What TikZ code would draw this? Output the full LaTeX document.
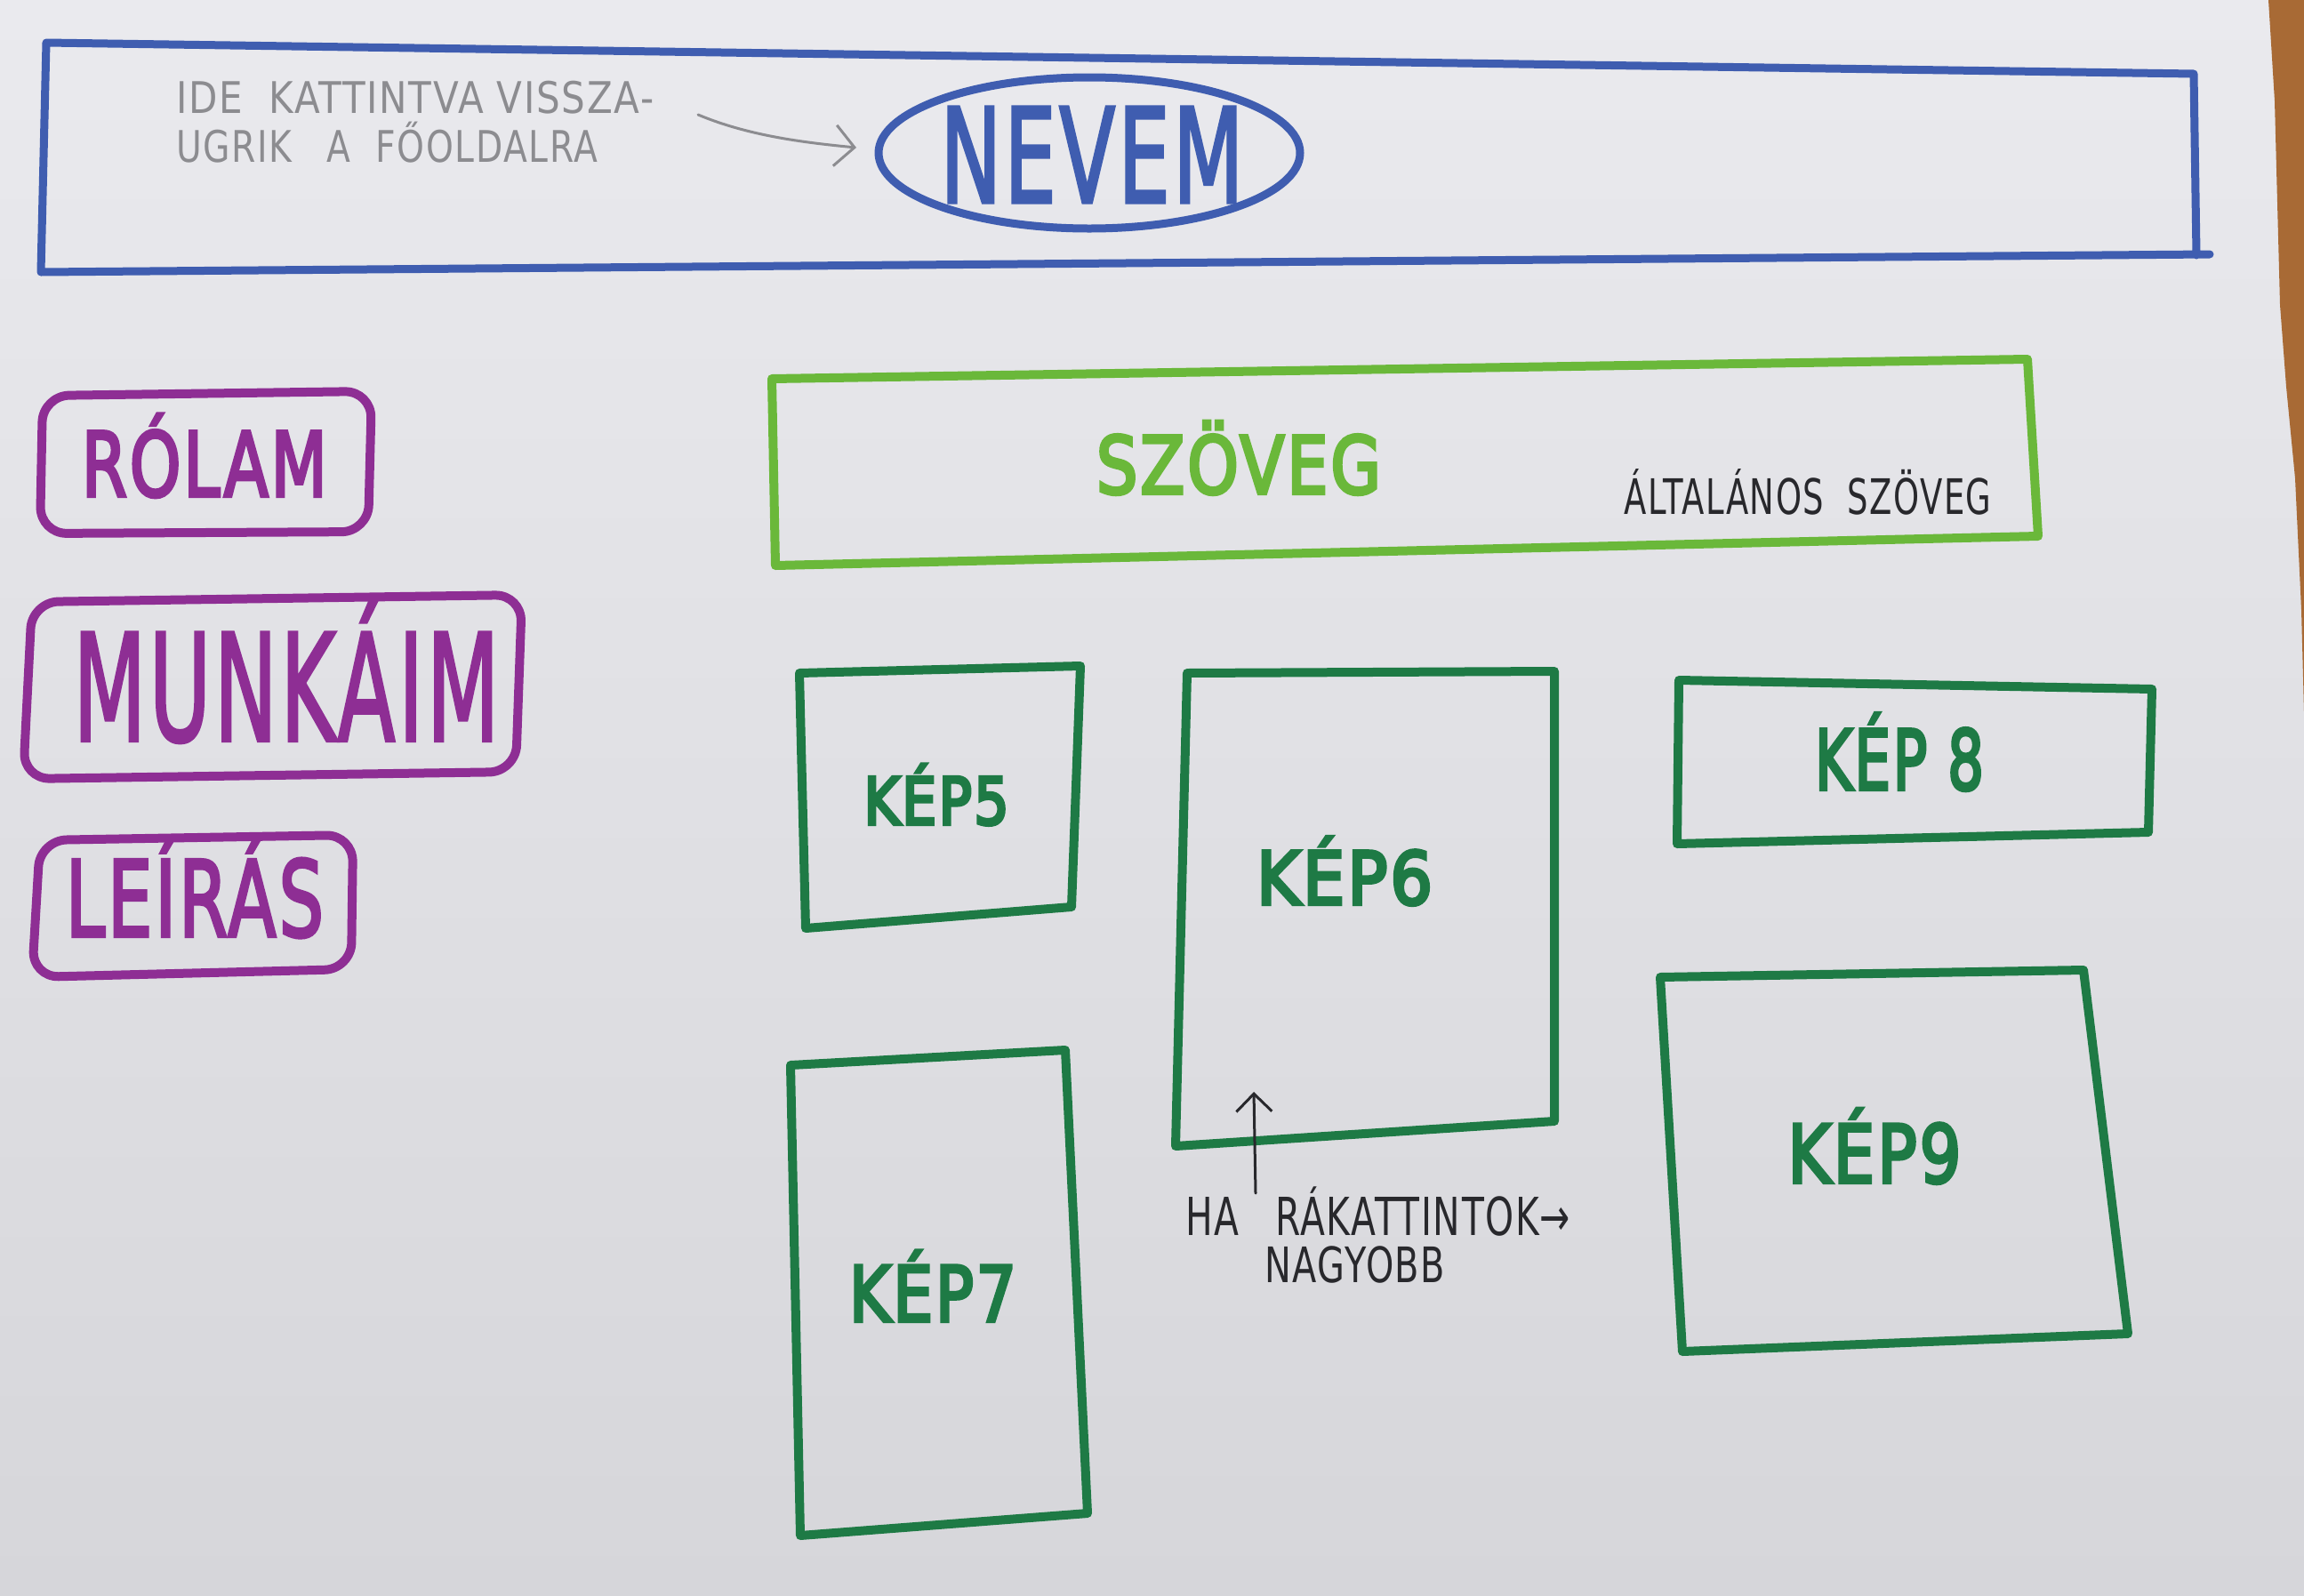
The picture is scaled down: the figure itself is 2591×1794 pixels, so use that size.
\documentclass[tikz,border=0pt]{standalone}
\usepackage{fontspec}
\setmainfont{DejaVu Sans}
\newfontfamily\hand[LetterSpace=4]{DejaVu Sans}
\newfontfamily\arrowfont{DejaVu Sans}
\usetikzlibrary{arrows.meta,shapes.geometric}
\newcommand\fitw[3]{\resizebox{#1pt}{\height}{\fontsize{#2pt}{#2pt}\selectfont #3}}
\newcommand\marker[1]{\special{pdf:literal direct 2 Tr 4 w}#1\special{pdf:literal direct 0 Tr 1 w}}
\definecolor{pblue}{RGB}{63,93,176}
\definecolor{ppurple}{RGB}{142,46,148}
\definecolor{lgreen}{RGB}{106,184,58}
\definecolor{dgreen}{RGB}{30,122,69}
\definecolor{pencil}{RGB}{140,140,144}
\definecolor{ink}{RGB}{40,40,44}
\definecolor{paperA}{RGB}{234,234,238}
\definecolor{paperB}{RGB}{214,214,218}
\definecolor{wood}{RGB}{168,106,53}
\begin{document}
\begin{tikzpicture}[x=1pt,y=-1pt,
  bluepen/.style={draw=pblue, line width=9pt, line join=round, line cap=round},
  purplebox/.style={draw=ppurple, line width=10pt, rounded corners=30pt, line join=round},
  lgreenbox/.style={draw=lgreen, line width=10pt, line join=round, line cap=round},
  dgreenbox/.style={draw=dgreen, line width=10pt, line join=round, line cap=round},
  lbl/.style={inner sep=0pt, anchor=base},
  lblw/.style={inner sep=0pt, anchor=base west},
  pencilarrow/.style={draw=pencil, line width=3pt, line cap=round, -{Straight Barb[length=22pt,width=46pt]}},
  inkarrow/.style={draw=ink, line width=3pt, line cap=round, -{Straight Barb[length=20pt,width=40pt]}}
]
\useasboundingbox (0,0) rectangle (2591,1794);
% paper and table edge
\shade[top color=paperA, bottom color=paperB] (0,0) rectangle (2591,1794);
\fill[wood] (2551,0) -- (2591,0) -- (2591,801) -- (2588,686) -- (2581,538) -- (2571,435) -- (2564,343) -- (2558,114) -- cycle;

% header
\draw[bluepen] (2485,286) -- (46,306) -- (52,48) -- (2467,83) -- (2470,287);
\node[draw=pblue, line width=9pt, ellipse, minimum width=474pt, minimum height=170pt, inner sep=0pt] (nevem) at (1225,172) {};
\node[inner sep=0pt, text=pblue] (nevemtxt) at (1228,174) {\fitw{341}{147}{\hand\marker{NEVEM}}};
\node[lblw, text=pencil] (ide1) at (198,127) {\fitw{537}{49}{\hand IDE\ \ KATTINTVA VISSZA-}};
\node[lblw, text=pencil] (ide2) at (198,182) {\fitw{474}{49}{\hand UGRIK\quad A\ \ FŐOLDALRA}};
\coordinate (g1) at (785,129);
\coordinate (g2) at (963,166);
\draw[pencilarrow] (g1) .. controls (840,152) and (900,160) .. (g2);

% menu buttons
\draw[purplebox] (48,445) -- (418,440) -- (414,598) -- (45,600) -- cycle;
\node[lbl, text=ppurple] (rolam) at (230,558) {\fitw{276}{100}{\hand\marker{RÓLAM}}};
\draw[purplebox] (36,677) -- (587,669) -- (580,868) -- (26,876) -- cycle;
\node[lbl, text=ppurple] (munkaim) at (322,833) {\fitw{479}{167}{\hand\marker{MUNKÁIM}}};
\draw[purplebox] (45,945) -- (397,939) -- (395,1090) -- (36,1099) -- cycle;
\node[lbl, text=ppurple] (leiras) at (219,1053) {\fitw{290}{118}{\hand\marker{LEÍRÁS}}};

% text box
\draw[lgreenbox] (868,426) -- (2280,404) -- (2292,603) -- (872,636) -- cycle;
\node[lbl, text=lgreen] (szoveg) at (1393,555) {\fitw{320}{89}{\hand\marker{SZÖVEG}}};
\node[lbl, text=ink] (altalanos) at (2033,578) {\fitw{413}{55}{\hand ÁLTALÁNOS\ \ SZÖVEG}};

% image boxes
\draw[dgreenbox] (899,757) -- (1215,749) -- (1205,1020) -- (906,1044) -- cycle;
\node[lbl, text=dgreen] (kep5) at (1053,927) {\fitw{163}{73}{\hand\marker{KÉP5}}};
\draw[dgreenbox] (1335,757) -- (1748,755) -- (1748,1261) -- (1322,1289) -- cycle;
\node[lbl, text=dgreen] (kep6) at (1512,1017) {\fitw{198}{82}{\hand\marker{KÉP6}}};
\draw[dgreenbox] (889,1198) -- (1198,1181) -- (1223,1702) -- (900,1727) -- cycle;
\node[lbl, text=dgreen] (kep7) at (1049,1486) {\fitw{188}{86}{\hand\marker{KÉP7}}};
\draw[dgreenbox] (1888,765) -- (2420,775) -- (2416,936) -- (1886,949) -- cycle;
\node[lbl, text=dgreen] (kep8) at (2136,888) {\fitw{190}{93}{\hand\marker{KÉP 8}}};
\draw[dgreenbox] (1867,1099) -- (2343,1091) -- (2393,1500) -- (1892,1520) -- cycle;
\node[lbl, text=dgreen] (kep9) at (2108,1330) {\fitw{195}{90}{\hand\marker{KÉP9}}};

% note under KÉP6
\coordinate (b1) at (1412,1342);
\coordinate (b2) at (1410,1228);
\draw[inkarrow] (b1) -- (b2);
\node[lblw, text=ink] (ha) at (1333,1389) {\fitw{432}{59}{\hand HA\quad RÁKATTINTOK{\arrowfont →}}};
\node[lblw, text=ink] (nagyobb) at (1422,1442) {\fitw{203}{55}{\hand NAGYOBB}};
\end{tikzpicture}
\end{document}
